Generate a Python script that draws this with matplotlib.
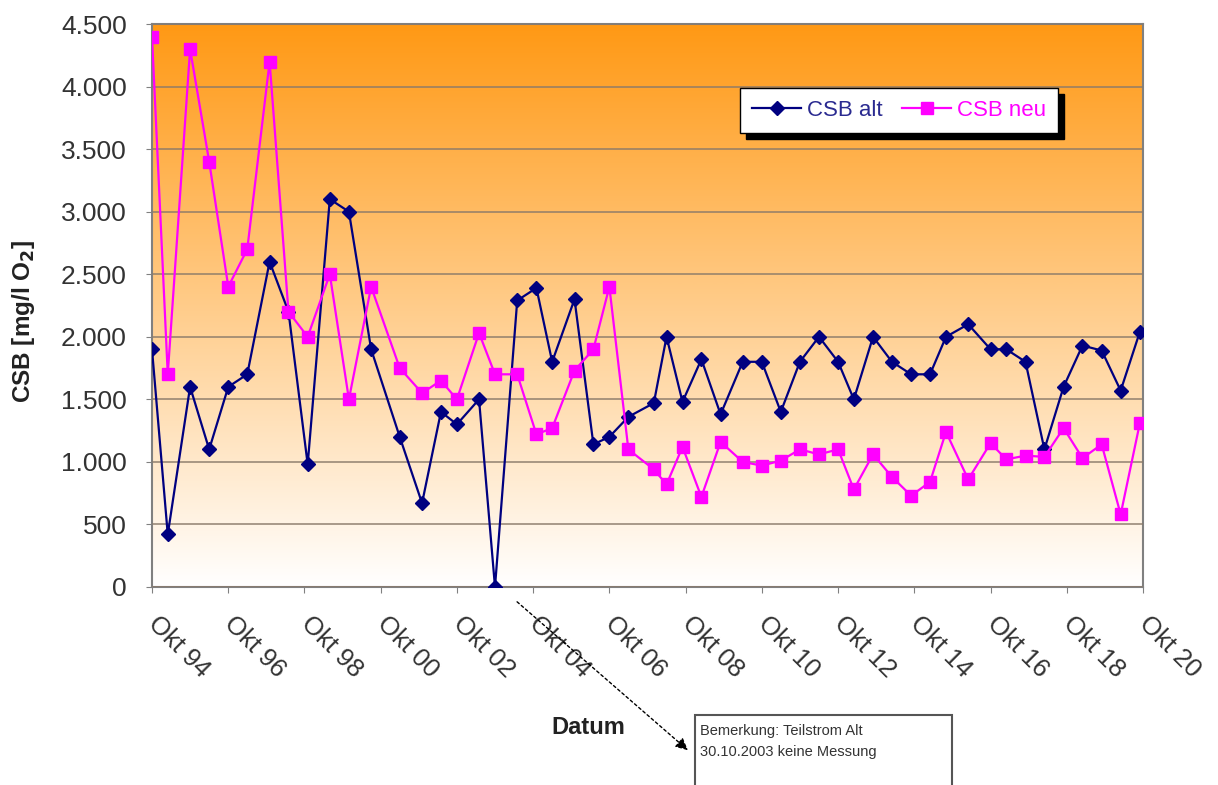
import numpy as np
import matplotlib
matplotlib.use("Agg")
from matplotlib import pyplot as plt
from matplotlib.patches import Rectangle
from matplotlib.ticker import FuncFormatter

plt.rcParams['font.family'] = ['Liberation Sans', 'DejaVu Sans']

# sampling dates (year-month) of the half-yearly measurements
dates = ['1994-10', '1995-03', '1995-10', '1996-04', '1996-10', '1997-04',
         '1997-11', '1998-05', '1998-11', '1999-06', '1999-12', '2000-07',
         '2001-04', '2001-11', '2002-05', '2002-10', '2003-05', '2003-10',
         '2004-05', '2004-11', '2005-04', '2005-11', '2006-05', '2006-10',
         '2007-04', '2007-12', '2008-04', '2008-09', '2009-03', '2009-09',
         '2010-04', '2010-10', '2011-04', '2011-10', '2012-04', '2012-10',
         '2013-03', '2013-09', '2014-03', '2014-09', '2015-03', '2015-08',
         '2016-03', '2016-10', '2017-03', '2017-09', '2018-03', '2018-09',
         '2019-03', '2019-09', '2020-03', '2020-09']

# CSB in mg/l O2
csb_alt = [1900, 420, 1600, 1100, 1600, 1700, 2600, 2200, 980, 3100, 3000,
           1900, 1200, 670, 1400, 1300, 1500, 0, 2290, 2390, 1800, 2300,
           1140, 1200, 1360, 1470, 2000, 1480, 1820, 1380, 1800, 1800, 1400,
           1800, 2000, 1800, 1500, 2000, 1800, 1700, 1700, 2000, 2100, 1900,
           1900, 1800, 1100, 1600, 1930, 1890, 1570, 2040]
csb_neu = [4400, 1700, 4300, 3400, 2400, 2700, 4200, 2200, 2000, 2500, 1500,
           2400, 1750, 1550, 1650, 1500, 2030, 1700, 1700, 1220, 1270, 1730,
           1900, 2400, 1100, 940, 820, 1120, 720, 1160, 1000, 970, 1010, 1100,
           1060, 1100, 780, 1060, 880, 730, 840, 1240, 860, 1150, 1020, 1050,
           1040, 1270, 1030, 1140, 580, 1310]

tick_years = list(range(1994, 2021, 2))
tick_labels = ['Okt %02d' % (y % 100) for y in tick_years]

x = np.array(dates, dtype='datetime64[M]').astype('datetime64[D]')

fig = plt.figure(figsize=(12.18, 7.85), dpi=100)
ax = fig.add_axes([152 / 1218, 1 - 587 / 785, (1143 - 152) / 1218, (587 - 24) / 785])

# orange-to-white background gradient
top = np.array([1.0, 0.60, 0.08])
frac = np.linspace(0, 1, 256)[:, None]
grad = top + (1 - top) * frac
ax.imshow(grad[:, None, :], extent=[0, 1, 0, 1], transform=ax.transAxes,
          aspect='auto', zorder=0, origin='upper')

ax.plot(x, csb_alt, color='#000080', lw=1.6, marker='D', ms=7,
        label='CSB alt', zorder=3)
ax.plot(x, csb_neu, color='#FF00FF', lw=1.6, marker='s', ms=8.5,
        label='CSB neu', zorder=3)

ax.set_ylim(0, 4500)
ax.set_yticks(np.arange(0, 4501, 500))
ax.yaxis.set_major_formatter(FuncFormatter(lambda v, p: f'{int(v):,}'.replace(',', '.')))
ax.grid(axis='y', color='#8a7a6a', lw=1.3, alpha=0.8, zorder=1)
ax.set_axisbelow(False)

ticks = np.array(['%d-10-01' % y for y in tick_years], dtype='datetime64[D]')
ax.set_xlim(ticks[0], ticks[-1])
ax.set_xticks(ticks)
ax.set_xticklabels(tick_labels, rotation=-45, ha='left', va='center',
                   rotation_mode='anchor')
ax.tick_params(axis='x', labelsize=18.5, pad=20, length=4, color='#808080',
               labelcolor='#333333')
ax.tick_params(axis='y', labelsize=19, pad=14, length=4, color='#808080',
               labelcolor='#333333')
for s in ax.spines.values():
    s.set_color('#808080')
    s.set_linewidth(1.5)

ax.set_ylabel('CSB [mg/l O$_\\mathbf{2}$]', fontsize=17.5, fontweight='bold',
              color='#222222')
ax.yaxis.set_label_coords((37 - 152) / 991, (587 - 322) / 563)
fig.text(588 / 1218, 1 - 727 / 785, 'Datum', fontsize=17, fontweight='bold',
         color='#222222', ha='center', va='center')

leg = ax.legend(loc='upper left', bbox_to_anchor=(740 / 1218, 1 - 88 / 785),
                bbox_transform=fig.transFigure, borderaxespad=0, ncol=2,
                fontsize=16, frameon=True, fancybox=False, edgecolor='black',
                framealpha=1,
                shadow={'color': 'black', 'alpha': 1, 'ox': 4, 'oy': -4},
                handlelength=2.2, handletextpad=0.25, columnspacing=0.9,
                borderpad=0.55)
leg.get_texts()[0].set_color('#2a2a90')
leg.get_texts()[1].set_color('#FF00FF')

# remark box for the missing measurement
fig.patches.append(Rectangle((695 / 1218, -0.05), (952 - 695) / 1218,
                             0.05 + 1 - 715 / 785, transform=fig.transFigure,
                             facecolor='white', edgecolor='#555555', lw=1.5))
fig.text(700 / 1218, 1 - 724 / 785, 'Bemerkung: Teilstrom Alt\n30.10.2003 keine Messung',
         fontsize=10.5, color='#333333', va='top', ha='left', linespacing=1.6)
ax.annotate('', xy=(690 / 1218, 1 - 752 / 785), xycoords='figure fraction',
            xytext=(515 / 1218, 1 - 600 / 785), textcoords='figure fraction',
            arrowprops=dict(arrowstyle='-|>', color='black', lw=1,
                            linestyle=(0, (2, 2)), mutation_scale=18),
            annotation_clip=False)

fig.savefig('out.png', dpi=100)
